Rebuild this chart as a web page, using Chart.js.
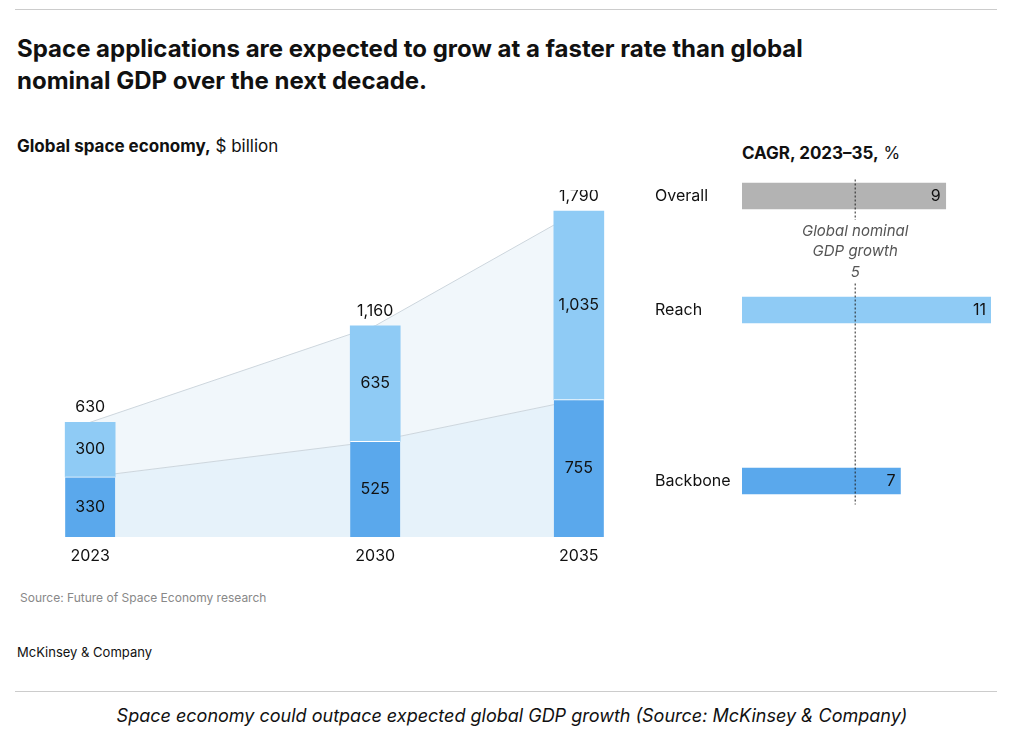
<!DOCTYPE html>
<html><head><meta charset="utf-8">
<script src="https://cdn.jsdelivr.net/npm/chart.js@4"></script>
<style>
body{margin:0;width:1024px;height:733px;background:#fff;font-family:Inter,"Noto Sans",sans-serif;position:relative;overflow:hidden;color:#111}
.abs{position:absolute}
#c1{position:absolute;left:0;top:190px}
#c2{position:absolute;left:640px;top:160px}
</style></head><body>
<div class="abs" style="left:15px;top:9px;width:982px;border-top:1px solid #ccc"></div>
<div class="abs" style="left:17px;top:33px;font-size:24px;font-weight:700;line-height:32px;width:870px">Space applications are expected to grow at a faster rate than global nominal GDP over the next decade.</div>
<div class="abs" style="left:17px;top:136px;font-size:17px"><b>Global space economy,</b> $ billion</div>
<div class="abs" style="left:742px;top:143px;font-size:17px"><b>CAGR, 2023–35,</b> %</div>
<div class="abs" style="left:20px;top:590px;font-size:12px;color:#888">Source: Future of Space Economy research</div>
<div class="abs" style="left:17px;top:644px;font-size:13px">McKinsey &amp; Company</div>
<div class="abs" style="left:15px;top:691px;width:982px;border-top:1px solid #ccc"></div>
<div class="abs" style="left:0;top:705px;width:1024px;text-align:center;font-size:18px;font-style:italic">Space economy could outpace expected global GDP growth (Source: McKinsey &amp; Company)</div>
<canvas id="c1" width="660" height="380"></canvas><canvas id="c2" width="384" height="360"></canvas>
<script>
const years=[2023,2030,2035];
const backbone=[330,525,755];
const reach=[300,635,1035];
const totals=[630,1160,1790];
const cagrCats=["Overall","","Reach","","","Backbone"];
const cagrVals=[9,null,11,null,null,7];
const gdpGrowth=5;
const fmt=v=>v.toLocaleString('en-US');
const lbl1={id:'lbl1',afterDatasetsDraw(c){const x=c.ctx,xs=c.scales.x,ys=c.scales.y;x.save();x.textAlign='center';x.textBaseline='middle';x.font='16px Inter, sans-serif';x.fillStyle='#111';
years.forEach((yr,i)=>{const px=xs.getPixelForValue(yr);
x.fillText(fmt(backbone[i]),px,ys.getPixelForValue(backbone[i]/2));
x.fillText(fmt(reach[i]),px,ys.getPixelForValue(backbone[i]+reach[i]/2));
x.fillText(fmt(totals[i]),px,ys.getPixelForValue(totals[i])-15);
x.fillText(yr,px,ys.getPixelForValue(0)+19);});x.restore();}};
new Chart(document.getElementById('c1'),{type:'bar',data:{datasets:[
{type:'line',data:years.map((y,i)=>({x:y,y:backbone[i]})),stack:'a',fill:'origin',backgroundColor:'#e6f2fa',borderColor:'#cdd6dd',borderWidth:1,pointRadius:0,order:5},
{type:'line',data:years.map((y,i)=>({x:y,y:totals[i]})),stack:'b',fill:'-1',backgroundColor:'#f1f7fb',borderColor:'#cdd6dd',borderWidth:1,pointRadius:0,order:6},
{data:years.map((y,i)=>({x:y,y:backbone[i]})),stack:'s',backgroundColor:'#5aa8ec',barThickness:50,clip:false,order:1,borderColor:'#fff',borderWidth:{top:1}},
{data:years.map((y,i)=>({x:y,y:reach[i]})),stack:'s',backgroundColor:'#8fcbf5',barThickness:50,clip:false,order:1}
]},options:{responsive:false,animation:false,devicePixelRatio:1,layout:{padding:{left:32,right:23,top:21,bottom:33}},
plugins:{legend:{display:false},tooltip:{enabled:false}},
scales:{x:{type:'linear',min:2022.5,max:2035.5,display:false},y:{stacked:true,min:0,max:1790,display:false}}},plugins:[lbl1]});

const lbl2={id:'lbl2',afterDatasetsDraw(c){const x=c.ctx,xs=c.scales.x,ys=c.scales.y;x.save();
const gx=xs.getPixelForValue(gdpGrowth);x.strokeStyle='#222';x.setLineDash([2,2]);x.lineWidth=1;x.beginPath();x.moveTo(gx,ys.top+12);x.lineTo(gx,ys.bottom-5);x.stroke();x.setLineDash([]);
x.font='16px Inter, sans-serif';x.textBaseline='middle';
cagrCats.forEach((cat,i)=>{if(!cat)return;const py=ys.getPixelForValue(i);x.textAlign='left';x.fillStyle='#111';x.fillText(cat,15,py);
x.textAlign='right';x.fillText(cagrVals[i],xs.getPixelForValue(cagrVals[i])-5,py);});
x.font='italic 15px Inter, sans-serif';x.textAlign='center';
const y1=ys.getPixelForValue(1);x.fillStyle='#fff';x.fillRect(gx-62,y1-33,124,62);x.fillStyle='#555';
x.fillText('Global nominal',gx,y1-22);x.fillText('GDP growth',gx,y1-2);x.fillText(gdpGrowth,gx,y1+19);x.restore();}};
new Chart(document.getElementById('c2'),{type:'bar',data:{labels:cagrCats,datasets:[{data:cagrVals,backgroundColor:['#b3b3b3',null,'#8fcbf5',null,null,'#5aa8ec'],barThickness:26}]},
options:{indexAxis:'y',responsive:false,animation:false,devicePixelRatio:1,layout:{padding:{left:102,right:33,top:7.5,bottom:10.5}},
plugins:{legend:{display:false},tooltip:{enabled:false}},scales:{x:{min:0,max:11,display:false},y:{display:false}}},plugins:[lbl2]});
</script></body></html>
